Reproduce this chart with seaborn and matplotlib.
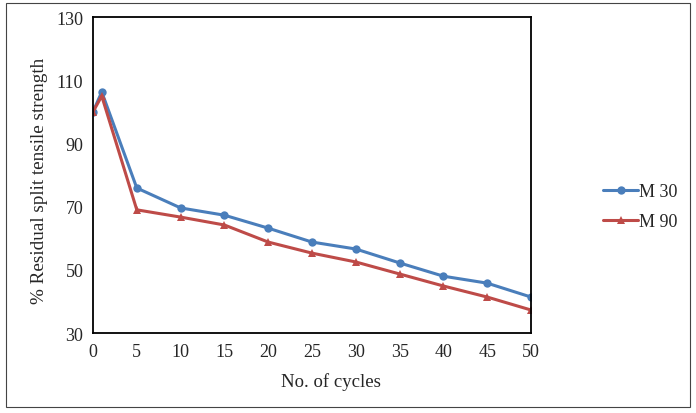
import pandas as pd
import matplotlib.pyplot as plt
import seaborn as sns
from matplotlib.patches import Rectangle

cycles = [0, 1, 5, 10, 15, 20, 25, 30, 35, 40, 45, 50]
m30 = [100, 106.3, 75.9, 69.6, 67.3, 63.2, 58.8, 56.6, 52.2, 48.0, 45.8, 41.4]
m90 = [100, 105.0, 69.0, 66.7, 64.2, 58.8, 55.3, 52.5, 48.7, 44.9, 41.4, 37.3]
series_names = ['M 30', 'M 90']
x_ticks = list(range(0, 55, 5))
y_ticks = [30, 50, 70, 90, 110, 130]

df = pd.DataFrame({
    'cycles': cycles * 2,
    'value': m30 + m90,
    'series': [series_names[0]] * len(cycles) + [series_names[1]] * len(cycles),
})

sns.set_style('white')
plt.rcParams['font.family'] = ['Liberation Serif', 'DejaVu Serif']

fig = plt.figure(figsize=(6.96, 4.14), dpi=100)
ax = fig.add_axes([0.1336, 0.193, 0.763 - 0.1336, 0.9565 - 0.193])

palette = {'M 30': '#4A7EBB', 'M 90': '#BE4B48'}
sns.lineplot(data=df, x='cycles', y='value', hue='series', style='series',
             palette=palette, markers={'M 30': 'o', 'M 90': '^'}, dashes=False,
             linewidth=2.2, markersize=6, markeredgewidth=0, ax=ax)

ax.set_xlim(0, 50)
ax.set_ylim(30, 130)
ax.set_xticks(x_ticks)
ax.set_yticks(y_ticks)
ax.tick_params(axis='both', length=0, labelsize=13, pad=7)
ax.set_xlabel('No. of cycles', fontsize=13.5)
ax.set_ylabel('% Residual split tensile strength', fontsize=13.8)
ax.xaxis.set_label_coords(0.543, -0.125)
ax.yaxis.set_label_coords(-0.103, 0.484)
for sp in ax.spines.values():
    sp.set_color('black')
    sp.set_linewidth(1.3)
for lab in ax.get_xticklabels() + ax.get_yticklabels():
    lab.set_clip_on(False)

leg = ax.legend(loc='center left', bbox_to_anchor=(1.128, 0.4), frameon=False,
                fontsize=13, handlelength=1.9, handletextpad=0.05, labelspacing=0.75)

fig.patches.append(Rectangle((0.008, 0.015), 0.984, 0.975, transform=fig.transFigure,
                             fill=False, edgecolor='#444444', linewidth=0.8))

fig.savefig('out.png', dpi=100)
